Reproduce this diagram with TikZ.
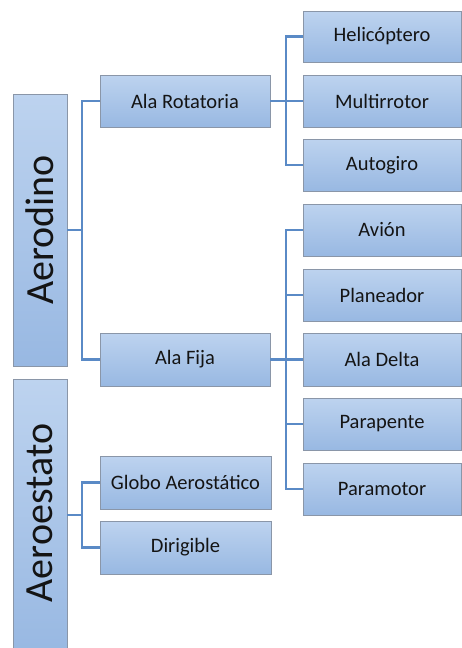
\documentclass[tikz,border=0pt]{standalone}
\usepackage{fontspec}
\setmainfont{Carlito}
\usetikzlibrary{calc}
\definecolor{boxtop}{HTML}{BDD3EF}
\definecolor{boxbot}{HTML}{98B8E2}
\definecolor{boxline}{HTML}{8A96A8}
\definecolor{conncol}{HTML}{5A8AC6}
\definecolor{txt}{HTML}{141414}
\begin{document}
\begin{tikzpicture}[x=1pt,y=-1pt,
  cbox/.style={draw=boxline, line width=0.9pt, top color=boxtop, bottom color=boxbot,
    anchor=north west, inner sep=0pt, outer sep=0pt, text=txt,
    font=\fontsize{20.5}{24}\selectfont},
  bigbox/.style={cbox},
  bigtext/.style={rotate=90, text=txt, font=\fontsize{40}{46}\selectfont},
  conn/.style={draw=conncol, line width=2.6pt}]
\useasboundingbox (0,0) rectangle (462,648);
% level 1
\node[bigbox, minimum width=54pt, minimum height=272pt] (aerodino) at (13,94) {};
\node[bigtext] (aerodinolbl) at (aerodino.center) {Aerodino};
\node[bigbox, minimum width=54pt, minimum height=275pt] (aeroestato) at (13,379) {};
\node[bigtext] (aeroestatolbl) at (40,513) {Aeroestato};
% level 2
\node[cbox, minimum width=170pt, minimum height=52pt] (alarot) at (100,75) {Ala Rotatoria};
\node[cbox, minimum width=170pt, minimum height=53pt] (alafija) at (100,333) {Ala Fija};
\node[cbox, minimum width=171pt, minimum height=53pt] (globo) at (100,456) {Globo Aerostático};
\node[cbox, minimum width=171pt, minimum height=53pt] (dirig) at (100,521) {Dirigible};
% level 3
\node[cbox, minimum width=158pt, minimum height=51pt] (heli) at (303,11) {Helicóptero};
\node[cbox, minimum width=158pt, minimum height=52pt] (multi) at (303,75) {Multirrotor};
\node[cbox, minimum width=158pt, minimum height=52pt] (auto) at (303,139) {Autogiro};
\node[cbox, minimum width=158pt, minimum height=52pt] (avion) at (303,204) {Avión};
\node[cbox, minimum width=158pt, minimum height=52pt] (plan) at (303,269) {Planeador};
\node[cbox, minimum width=158pt, minimum height=53pt] (delta) at (303,333) {Ala Delta};
\node[cbox, minimum width=158pt, minimum height=52pt] (parap) at (303,398) {Parapente};
\node[cbox, minimum width=158pt, minimum height=52pt] (paramot) at (303,463) {Paramotor};
% buses
\coordinate (b1) at (82,0);
\coordinate (b2) at (286,0);
\coordinate (m) at ($(globo.west)!0.5!(dirig.west)$);
% connectors
\draw[conn] (aerodino.east) -- (aerodino.east -| b1);
\draw[conn] (alarot.west) -| (b1 |- alafija.west) -- (alafija.west);
\draw[conn] (alarot.east) -- (alarot.east -| b2);
\draw[conn] (heli.west) -| (b2 |- auto.west) -- (auto.west);
\draw[conn] (multi.west) -- (multi.west -| b2);
\draw[conn] (alafija.east) -- (alafija.east -| b2);
\draw[conn] (avion.west) -| (b2 |- paramot.west) -- (paramot.west);
\draw[conn] (plan.west) -- (plan.west -| b2);
\draw[conn] (delta.west) -- (delta.west -| b2);
\draw[conn] (parap.west) -- (parap.west -| b2);
\draw[conn] (aeroestato.east |- m) -- (b1 |- m);
\draw[conn] (globo.west) -| (b1 |- dirig.west) -- (dirig.west);
\end{tikzpicture}
\end{document}
